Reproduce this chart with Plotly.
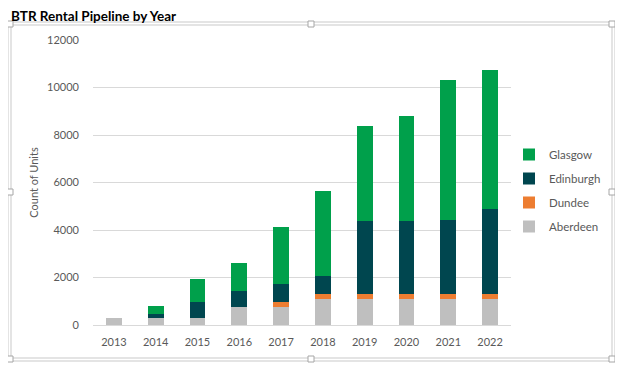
import plotly.graph_objects as go

years = ["2013", "2014", "2015", "2016", "2017", "2018", "2019", "2020", "2021", "2022"]
aberdeen = [300, 300, 300, 760, 760, 1100, 1100, 1100, 1100, 1100]
dundee = [0, 0, 0, 0, 210, 210, 210, 210, 210, 210]
edinburgh = [0, 160, 670, 670, 760, 760, 3070, 3070, 3110, 3580]
glasgow = [0, 350, 970, 1180, 2400, 3580, 4000, 4420, 5900, 5850]

series = [
    ("Aberdeen", aberdeen, "#BFBFBF"),
    ("Dundee", dundee, "#ED7D31"),
    ("Edinburgh", edinburgh, "#00464F"),
    ("Glasgow", glasgow, "#00A04B"),
]

# page body has an 8px margin, so the figure is drawn 8px in from the window edge
OFF = 8
WIN_W, WIN_H = 623, 373
W, H = WIN_W - OFF, WIN_H - OFF
# plot area in window pixel coordinates
X0, X1, Y0, Y1 = 93, 511, 40, 325
L, T = X0 - OFF, Y0 - OFF
R, B = WIN_W - X1, WIN_H - Y1
PW, PH = X1 - X0, Y1 - Y0

def px(x):
    return (x - X0) / PW

def py(y):
    return (Y1 - y) / PH

fig = go.Figure()
for i, (name, vals, col) in enumerate(series):
    fig.add_trace(go.Bar(x=years, y=vals, name=name, marker_color=col,
                         marker_line_width=0, legendgroup=name,
                         legendrank=1000 - i))

shapes = []
frame_col = "#C9C9C9"
for (x0, y0, x1, y1) in [(8, 22, 615, 361), (11, 25, 612, 358)]:
    shapes.append(dict(type="rect", xref="paper", yref="paper",
                       x0=px(x0), x1=px(x1), y0=py(y1), y1=py(y0),
                       line=dict(color=frame_col, width=1), layer="below"))
for (hx, hy) in [(10, 24), (311, 24), (612, 24), (10, 192), (612, 192),
                 (10, 359), (311, 359), (612, 359)]:
    shapes.append(dict(type="rect", xref="paper", yref="paper",
                       x0=px(hx - 3), x1=px(hx + 3), y0=py(hy + 3), y1=py(hy - 3),
                       fillcolor="white", line=dict(color="#A6A6A6", width=1)))

fig.update_layout(
    width=W, height=H,
    margin=dict(l=L, r=R, t=T, b=B, pad=0),
    paper_bgcolor="white", plot_bgcolor="white",
    barmode="stack", bargap=0.62,
    font=dict(family="Lato, Carlito, sans-serif", size=11, color="#595959"),
    annotations=[dict(text="<b>BTR Rental Pipeline by Year</b>", xref="paper", yref="paper",
                      x=px(10), y=py(16), xanchor="left", yanchor="middle",
                      showarrow=False, borderpad=0,
                      font=dict(family="Lato, Carlito, sans-serif", size=13.5,
                                color="#000000"))],
    legend=dict(x=px(509), xanchor="left", y=py(140), yanchor="top",
                tracegroupgap=5,
                font=dict(size=11.5, color="#595959"), bgcolor="rgba(0,0,0,0)"),
    shapes=shapes,
    xaxis=dict(showgrid=False, showline=True, linecolor="#D9D9D9", linewidth=1,
               ticks="", ticklabelstandoff=7,
               tickfont=dict(size=11, color="#595959")),
    yaxis=dict(range=[0, 12000], dtick=2000, tickformat="d",
               showgrid=True, gridcolor="#D9D9D9",
               gridwidth=1, zeroline=False, showline=False, ticks="",
               ticklabelstandoff=13,
               tickfont=dict(size=11, color="#595959"),
               title=dict(text="Count of Units", standoff=6,
                          font=dict(size=11, color="#595959"))),
)

fig.write_html("out.html")
